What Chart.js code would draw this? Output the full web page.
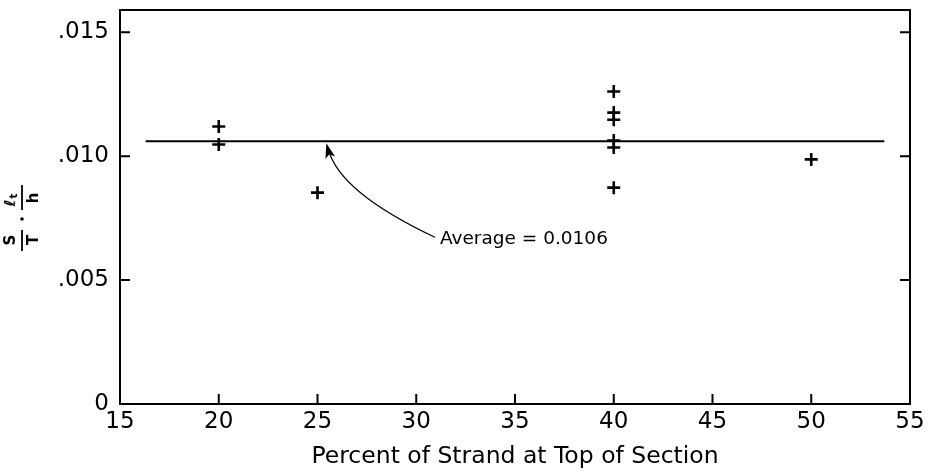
<!DOCTYPE html>
<html>
<head>
<meta charset="utf-8">
<script src="https://cdn.jsdelivr.net/npm/chart.js@4/dist/chart.umd.min.js"></script>
<style>
  html, body { margin: 0; padding: 0; background: #fff; }
  #wrap { width: 932px; height: 472px; }
</style>
</head>
<body>
<div id="wrap"><canvas id="c" width="932" height="472"></canvas></div>
<script>
// ---- data ----
const xValues = [20, 20, 25, 40, 40, 40, 40, 40, 40, 50];
const yValues = [0.0112, 0.01047, 0.00853, 0.01261, 0.01176, 0.01147, 0.01063, 0.01035, 0.00873, 0.00987];
const averageValue = 0.0106;
const averageRange = [16.3, 53.7];
const xTickValues = [15, 20, 25, 30, 35, 40, 45, 50, 55];
const yTickValues = [0, 0.005, 0.010, 0.015];
const yTickLabels = ['0', '.005', '.010', '.015'];
const xTitle = 'Percent of Strand at Top of Section';
const annotationText = 'Average = 0.0106';
const annotationAnchor = [31.2, 0.00665];   // text position (data units)
const annotationTip = [25.45, 0.01052];     // arrow tip (data units)

const FONT = '"DejaVu Sans", "Liberation Sans", sans-serif';

const framePlugin = {
  id: 'frame',
  afterDraw(chart) {
    const ctx = chart.ctx;
    const a = chart.chartArea;
    const xs = chart.scales.x, ys = chart.scales.y;
    ctx.save();
    ctx.strokeStyle = '#000';
    ctx.lineWidth = 2;
    ctx.strokeRect(a.left, a.top, a.right - a.left, a.bottom - a.top);
    // inward ticks
    const tl = 10;
    ctx.beginPath();
    xTickValues.forEach(v => {
      const px = xs.getPixelForValue(v);
      ctx.moveTo(px, a.bottom); ctx.lineTo(px, a.bottom - tl);
    });
    yTickValues.forEach(v => {
      const py = ys.getPixelForValue(v);
      ctx.moveTo(a.left, py); ctx.lineTo(a.left + tl, py);
      ctx.moveTo(a.right, py); ctx.lineTo(a.right - tl, py);
    });
    ctx.stroke();

    // annotation: text + curved arrow
    const tx = xs.getPixelForValue(annotationAnchor[0]);
    const ty = ys.getPixelForValue(annotationAnchor[1]);
    ctx.fillStyle = '#000';
    ctx.font = '18.5px ' + FONT;
    ctx.textBaseline = 'middle';
    ctx.textAlign = 'left';
    ctx.fillText(annotationText, tx, ty);
    const sx = tx - 5, sy = ty - 2;
    const ex = xs.getPixelForValue(annotationTip[0]);
    const ey = ys.getPixelForValue(annotationTip[1]);
    const cx = ex + 0.12 * (sx - ex), cy = ey + 0.52 * (sy - ey);
    ctx.lineWidth = 1.3;
    ctx.beginPath();
    ctx.moveTo(sx, sy);
    ctx.quadraticCurveTo(cx, cy, ex + 2, ey + 6);
    ctx.stroke();
    // arrow head
    const ang = Math.atan2(ey - cy, ex - cx);
    const L = 15, W = 5;
    ctx.beginPath();
    ctx.moveTo(ex, ey);
    ctx.lineTo(ex - L * Math.cos(ang) + W * Math.sin(ang), ey - L * Math.sin(ang) - W * Math.cos(ang));
    ctx.lineTo(ex - L * Math.cos(ang) * 0.75, ey - L * Math.sin(ang) * 0.75);
    ctx.lineTo(ex - L * Math.cos(ang) - W * Math.sin(ang), ey - L * Math.sin(ang) + W * Math.cos(ang));
    ctx.closePath();
    ctx.fill();

    // y-axis title: S/T · ℓt/h, rotated
    ctx.translate(22, 218);
    ctx.rotate(-Math.PI / 2);
    ctx.font = 'bold 15px ' + FONT;
    ctx.textAlign = 'center';
    ctx.textBaseline = 'middle';
    ctx.lineWidth = 1.8;
    // S / T
    ctx.fillText('S', -22, -11);
    ctx.fillText('T', -22, 12);
    ctx.beginPath(); ctx.moveTo(-33, 0); ctx.lineTo(-12, 0); ctx.stroke();
    // dot
    ctx.beginPath(); ctx.arc(-1, 0, 1.8, 0, Math.PI * 2); ctx.fill();
    // ℓt / h
    ctx.fillText('\u2113', 15, -11);
    ctx.font = 'bold 10px ' + FONT;
    ctx.fillText('t', 22, -8);
    ctx.font = 'bold 15px ' + FONT;
    ctx.fillText('h', 20, 12);
    ctx.beginPath(); ctx.moveTo(8, 0); ctx.lineTo(33, 0); ctx.stroke();
    ctx.restore();
  }
};

new Chart(document.getElementById('c'), {
  type: 'scatter',
  data: {
    datasets: [
      {
        label: 'Data',
        data: xValues.map((x, i) => ({ x: x, y: yValues[i] })),
        pointStyle: 'cross',
        pointRadius: 6.5,
        pointBorderWidth: 2.6,
        borderColor: '#000',
        backgroundColor: '#000'
      },
      {
        label: 'Average',
        type: 'line',
        data: averageRange.map(x => ({ x: x, y: averageValue })),
        borderColor: '#000',
        borderWidth: 2,
        pointRadius: 0,
        fill: false
      }
    ]
  },
  options: {
    responsive: false,
    animation: false,
    layout: { padding: { left: 0, top: 10, right: 22, bottom: 0 } },
    plugins: { legend: { display: false }, tooltip: { enabled: false } },
    scales: {
      x: {
        type: 'linear',
        min: 15, max: 55,
        afterBuildTicks: s => { s.ticks = xTickValues.map(v => ({ value: v })); },
        afterFit: s => { s.height = 68; s.paddingLeft = 0; s.paddingRight = 0; },
        grid: { display: false, drawTicks: false },
        border: { display: false },
        ticks: { color: '#000', font: { family: FONT, size: 23 }, padding: 4, maxRotation: 0, autoSkip: false,
                 callback: v => String(v) },
        title: { display: true, text: xTitle, color: '#000', font: { family: FONT, size: 23.5 }, padding: { top: 0, bottom: 1 } }
      },
      y: {
        type: 'linear',
        min: 0, max: 0.0159,
        afterBuildTicks: s => { s.ticks = yTickValues.map(v => ({ value: v })); },
        afterFit: s => { s.width = 120; s.paddingTop = 0; s.paddingBottom = 0; },
        grid: { display: false, drawTicks: false },
        border: { display: false },
        ticks: { color: '#000', font: { family: FONT, size: 23 }, padding: 11, autoSkip: false,
                 callback: (v) => yTickLabels[yTickValues.findIndex(t => Math.abs(t - v) < 1e-9)] }
      }
    }
  },
  plugins: [framePlugin]
});
</script>
</body>
</html>
